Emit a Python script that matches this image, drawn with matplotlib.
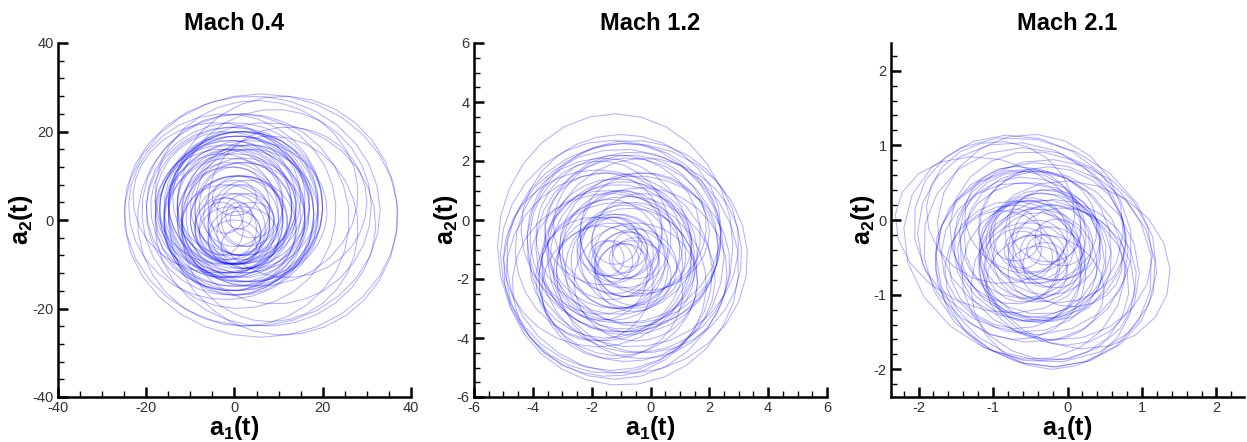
import numpy as np
import matplotlib
matplotlib.use("Agg")
import matplotlib.pyplot as plt
from matplotlib.patches import RegularPolygon
from matplotlib.transforms import Affine2D
from matplotlib.ticker import MultipleLocator

plt.rcParams['font.family'] = ['Liberation Sans', 'DejaVu Sans']
plt.rcParams['mathtext.fontset'] = 'custom'
plt.rcParams['mathtext.bf'] = 'Liberation Sans:bold'
plt.rcParams['mathtext.rm'] = 'Liberation Sans'

titles = ["Mach 0.4", "Mach 1.2", "Mach 2.1"]

# loops of the a1-a2 trajectory: centre x, centre y, half width, half height, tilt (deg)
m04_cx = [6, 11, 4, 7, 2, 1, 9, -2, 0, 1, -1, 2, 0, -2, 3, 1, -1, 2, 0, -3, 4, 1, -1,
          0, 2, -1, 1, 3, -2, 0, 1, 2, -1, 0, 1, -2, 2, 0,
          -1, 2, 1, -2, 3, 0, -1, 2, 1, -3, 4, 0, -1, 2, 1, -2, 3, 0, -1, 2, 4, -3, 1, 0,
          12, -4, 8, 5]
m04_cy = [1, 1, 2, -1, 0, 2, 3, 3, 3, 2, 1, 4, 0, 2, 1, 5, -1, 2, 3, 3, 3, -2, 4,
          0, 1, -2, -1, 0, 1, -5, -3, 2, 0, -1, 1, -2, -4, 3,
          2, 3, 1, 4, 2, 1, 3, 0, 4, 1, 1, 2, 0, 3, 0, -1, -1, 3, -3, 1, 0, -2, -6, 5,
          4, 5, -2, 6]
m04_rx = [31, 26, 29, 25, 24, 22, 22, 22, 19, 18, 17, 17, 16, 16, 15, 15, 15, 14, 13, 14, 13, 13, 12,
          10, 9, 8, 7, 6, 4, 6, 5, 11, 12, 9, 3, 7, 8, 20,
          19, 18, 17, 16, 18, 15, 14, 14, 16, 13, 15, 17, 12, 12, 11, 10, 9, 8, 7, 6, 5, 5, 4, 5,
          18, 19, 20, 23]
m04_ry = [27.5, 27, 26, 23, 24, 22, 22, 21, 18, 18, 17, 16, 17, 15, 16, 15, 15, 14, 13, 13, 14, 12, 12,
          10, 9, 8, 7, 6, 4, 5, 5, 11, 12, 9, 3, 7, 7, 19,
          19, 17, 18, 16, 16, 14, 15, 13, 15, 14, 15, 17, 13, 11, 10, 9, 10, 9, 6, 7, 4, 6, 4, 4,
          17, 17, 21, 21]

m12_cx = [-1.2, -1.0, -0.8, -1.3, -0.6, -1.4, -0.9, -0.5, -1.6, -0.8, -1.1, -0.4, -1.5,
          -0.9, -1.2, -0.7, -1.0, -1.3, -0.6, -1.1, -0.9, -1.2, -0.8, -1.0, -1.3, -0.7,
          -0.3, -1.7, -0.2, -1.9, -1.1, -0.8, -1.4, -0.5,
          -1.0, -1.4, -0.2, -1.8, -0.7, -1.3, -0.5, -1.6, -0.3, -1.7, -1.0, -0.6, -1.4,
          -0.9, -1.2, -0.5, -1.5, -0.9, -1.1, -0.6]
m12_cy = [-0.9, -1.6, -1.3, -1.2, -0.8, -1.8, -0.6, -1.5, -1.0, -2.0, -0.5, -1.0, -1.5,
          -1.2, -0.8, -1.7, -1.0, -1.6, -1.2, -1.4, -0.9, -1.2, -1.5, -1.1, -1.4, -1.0,
          -1.8, -0.6, -0.4, -2.0, -1.3, -0.9, -1.0, -1.6,
          -0.3, -2.2, -1.2, -1.3, -0.2, -2.4, -2.1, -0.3, -0.8, -1.8, -0.5, -1.9, -0.9,
          -1.7, -0.7, -1.3, -1.3, -1.3, -2.0, -0.6]
m12_rx = [4.0, 4.0, 4.1, 3.8, 3.6, 3.5, 3.3, 3.2, 3.0, 3.0, 2.8, 2.7, 2.6,
          2.5, 2.3, 2.2, 2.0, 1.9, 1.8, 1.6, 1.5, 1.3, 1.1, 0.9, 0.7, 0.6,
          2.9, 2.4, 2.2, 2.0, 2.6, 3.1, 1.7, 1.4,
          3.4, 3.3, 3.3, 3.2, 2.6, 2.4, 2.1, 2.0, 1.7, 1.6, 1.4, 1.3, 1.1,
          0.9, 0.8, 0.8, 0.6, 0.5, 2.7, 3.0]
m12_ry = [4.5, 4.0, 3.9, 3.9, 3.5, 3.4, 3.2, 3.0, 3.1, 2.8, 2.7, 2.6, 2.5,
          2.5, 2.2, 2.1, 2.0, 1.8, 1.8, 1.6, 1.4, 1.3, 1.1, 0.9, 0.7, 0.6,
          2.9, 2.6, 2.0, 2.1, 2.5, 3.0, 1.7, 1.3,
          3.2, 3.1, 3.3, 3.0, 2.4, 2.3, 2.0, 1.9, 1.7, 1.6, 1.5, 1.2, 1.0,
          0.9, 0.8, 0.7, 0.6, 0.5, 2.6, 2.9]

m21_cx = [-0.5, -0.4, -0.3, -0.6, -0.2, -0.5, -0.4, -0.3, -0.6, -1.0, -0.5, -0.2, 0.1,
          -0.4, -0.5, -0.3, -0.6, -0.4, -0.3, -0.5, -0.4, -0.2, -0.5, -0.4, -0.3, -0.6,
          -0.9, -0.1, -0.7, -0.2, -0.4, -0.5,
          -0.5, -0.3, -0.6, -0.2, -0.4, -0.7, -0.1, -0.5, -0.3, -0.8, 0.0, -0.6, -0.3,
          -0.5, -0.2, -0.7, -0.4, -0.6]
m21_cy = [-0.4, -0.5, -0.6, -0.3, -0.4, -0.6, -0.2, -0.8, -0.5, -0.2, -0.1, -0.9, -0.6,
          -0.3, -0.4, -0.5, -0.2, -0.6, -0.3, -0.4, -0.5, -0.3, -0.2, -0.4, -0.6, -0.4,
          0.1, -0.7, -0.6, -0.2, -0.1, -0.7,
          -0.3, -0.1, -0.6, -0.5, -0.7, -0.2, -0.3, -0.5, -0.4, -0.5, -0.5, 0.0, -0.9,
          -0.4, -0.2, -0.7, -0.6, -0.2]
m21_rx = [1.75, 1.6, 1.5, 1.45, 1.35, 1.3, 1.2, 1.15, 1.1, 1.35, 1.25, 1.1, 1.3,
          1.0, 0.95, 0.9, 0.85, 0.8, 0.75, 0.7, 0.6, 0.55, 0.5, 0.4, 0.3, 0.25,
          1.0, 1.05, 0.9, 0.65, 0.8, 0.7,
          0.6, 0.5, 0.5, 0.45, 0.4, 0.35, 0.35, 0.3, 0.25, 0.7, 0.75, 0.8, 0.8,
          1.05, 1.0, 0.95, 1.4, 1.5]
m21_ry = [1.45, 1.4, 1.35, 1.3, 1.2, 1.25, 1.1, 1.05, 1.0, 1.0, 1.25, 1.1, 1.1,
          0.95, 0.9, 0.85, 0.85, 0.75, 0.7, 0.65, 0.6, 0.5, 0.5, 0.4, 0.3, 0.25,
          0.95, 0.95, 0.85, 0.6, 0.75, 0.65,
          0.55, 0.45, 0.5, 0.4, 0.35, 0.35, 0.3, 0.3, 0.2, 0.6, 0.65, 0.7, 0.7,
          0.95, 0.9, 0.9, 1.25, 1.3]
m21_ang = [-25, -35, -20, -30, -15, -40, -25, -30, -10, -20, 0, 0, -20,
           -30, -15, -25, -35, -10, -20, -30, -15, -25, -40, -20, -10, -30,
           -15, -30, -20, -25, 0, -35,
           -20, -30, -10, -25, 0, -20, -30, 0, 0, -30, -20, -25, -15,
           -30, -20, -10, -30, -25]

panels = [
    dict(cx=m04_cx, cy=m04_cy, rx=m04_rx, ry=m04_ry, ang=None, lim=40, major=20, minor_x=5, minor_y=4, nv=30),
    dict(cx=m12_cx, cy=m12_cy, rx=m12_rx, ry=m12_ry, ang=None, lim=6, major=2, minor_x=0.5, minor_y=0.5, nv=28),
    dict(cx=m21_cx, cy=m21_cy, rx=m21_rx, ry=m21_ry, ang=m21_ang, lim=2.37, major=1, minor_x=0.2, minor_y=0.2, nv=20),
]

W, H = 1247, 442
fig = plt.figure(figsize=(W / 100, H / 100), dpi=100)
lefts = [58, 474, 891]

for i, p in enumerate(panels):
    ax = fig.add_axes([lefts[i] / W, 45 / H, 353 / W, 354 / H])
    ang = p["ang"] if p["ang"] is not None else [0] * len(p["cx"])
    for k in range(len(p["cx"])):
        poly = RegularPolygon((0, 0), numVertices=p["nv"], radius=1, orientation=0.37 * k,
                              fill=False, edgecolor=(0, 0, 1, 0.3), linewidth=0.75)
        tr = Affine2D().scale(p["rx"][k], p["ry"][k]).rotate_deg(ang[k]).translate(p["cx"][k], p["cy"][k])
        poly.set_transform(tr + ax.transData)
        ax.add_patch(poly)

    lim = p["lim"]
    ax.set_xlim(-lim, lim)
    ax.set_ylim(-lim, lim)
    ax.spines["top"].set_visible(False)
    ax.spines["right"].set_visible(False)
    ax.spines["left"].set_linewidth(1.8)
    ax.spines["bottom"].set_linewidth(1.8)
    ax.xaxis.set_major_locator(MultipleLocator(p["major"]))
    ax.yaxis.set_major_locator(MultipleLocator(p["major"]))
    ax.xaxis.set_minor_locator(MultipleLocator(p["minor_x"]))
    ax.yaxis.set_minor_locator(MultipleLocator(p["minor_y"]))
    ax.tick_params(which="major", direction="in", length=7, width=1.8, labelsize=10.5,
                   labelcolor="#333333", pad=3)
    ax.tick_params(which="minor", direction="in", length=4, width=1.0)
    ax.set_xticklabels([f"{t:g}" for t in ax.get_xticks()])
    ax.set_yticklabels([f"{t:g}" for t in ax.get_yticks()])

    ax.set_title(titles[i], fontsize=17, fontweight="bold", pad=9)
    ax.set_xlabel(r"$\mathbf{a_1(t)}$", fontsize=18, labelpad=-1)
    ax.set_ylabel(r"$\mathbf{a_2(t)}$", fontsize=18, labelpad=-2)

fig.savefig("out.png", dpi=100)
